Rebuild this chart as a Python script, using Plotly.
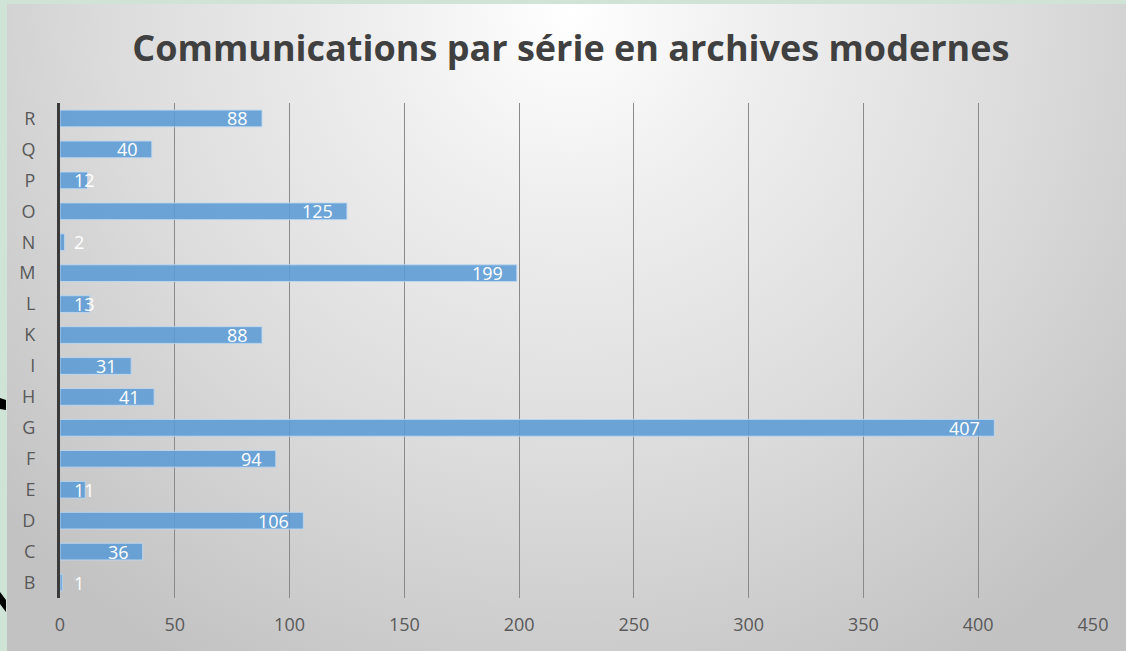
import base64
import plotly.graph_objects as go

# series (bottom to top as drawn)
categories = ["B", "C", "D", "E", "F", "G", "H", "I", "K", "L", "M", "N", "O", "P", "Q", "R"]
communications = [1, 36, 106, 11, 94, 407, 41, 31, 88, 13, 199, 2, 125, 12, 40, 88]
x_ticks = [0, 50, 100, 150, 200, 250, 300, 350, 400, 450]

W, H = 1126, 651
ML, MR, MT, MB = 60, 33, 103, 53
PW, PH = W - ML - MR, H - MT - MB

# background: light green frame + radial grey gradient
svg = f"""<svg xmlns='http://www.w3.org/2000/svg' width='{W}' height='{H}'>
<defs><radialGradient id='g' gradientUnits='userSpaceOnUse' cx='570' cy='10' r='760'>
<stop offset='0' stop-color='#ffffff'/><stop offset='0.25' stop-color='#efefef'/>
<stop offset='0.6' stop-color='#dcdcdc'/><stop offset='1' stop-color='#c2c2c2'/></radialGradient></defs>
<rect width='{W}' height='{H}' fill='#cfe4d6'/>
<rect x='7' y='4' width='{W - 7}' height='{H - 4}' fill='url(#g)'/>
</svg>"""
bg_src = "data:image/svg+xml;base64," + base64.b64encode(svg.encode()).decode()

fig = go.Figure(go.Bar(
    x=communications,
    y=categories,
    orientation="h",
    marker=dict(color="rgba(91,155,213,0.88)", line=dict(color="rgba(190,215,240,0.9)", width=1)),
    hoverinfo="x+y",
))

# value labels: inside end for long bars, just right of the axis for tiny ones
for cat, val in zip(categories, communications):
    if val >= 25:
        fig.add_annotation(x=val, y=cat, text=str(val), showarrow=False,
                           xanchor="right", xshift=-12,
                           font=dict(color="white", size=18, family="Open Sans"))
    else:
        fig.add_annotation(x=0, y=cat, text=str(val), showarrow=False,
                           xanchor="left", xshift=12,
                           font=dict(color="white", size=18, family="Open Sans"))


def px_x(v):
    return (v - ML) / PW


def px_y(v):
    return 1 - (v - MT) / PH


# bits of black outline poking in at the left edge
for path in [
    f"M {px_x(0)},{px_y(398)} L {px_x(6)},{px_y(400)} L {px_x(6)},{px_y(410)} L {px_x(0)},{px_y(409)} Z",
    f"M {px_x(0)},{px_y(592)} L {px_x(6)},{px_y(600)} L {px_x(6)},{px_y(612)} L {px_x(0)},{px_y(604)} Z",
]:
    fig.add_shape(type="path", path=path, xref="paper", yref="paper",
                  fillcolor="black", line=dict(width=0), layer="above")

fig.update_layout(
    width=W, height=H,
    margin=dict(l=ML, r=MR, t=MT, b=MB),
    paper_bgcolor="rgba(0,0,0,0)",
    plot_bgcolor="rgba(0,0,0,0)",
    images=[dict(source=bg_src, xref="paper", yref="paper",
                 x=-ML / PW, y=1 + MT / PH, sizex=W / PW, sizey=H / PH,
                 xanchor="left", yanchor="top", sizing="stretch", layer="below")],
    title=dict(text="<b>Communications par série en archives modernes</b>",
               x=0.507, xanchor="center", y=0.926, yanchor="middle",
               font=dict(family="Open Sans", size=36, color="#404040")),
    bargap=0.46,
    showlegend=False,
    font=dict(family="Open Sans", color="#595959", size=18),
)
fig.update_xaxes(range=[0, 450], tickvals=x_ticks, showgrid=True, gridcolor="#8a8a8a",
                 gridwidth=1, zeroline=False, showline=False, ticks="",
                 ticklabelstandoff=14, tickfont=dict(size=18, color="#595959"))
fig.update_yaxes(showline=True, linecolor="#3a3a3a", linewidth=3, showgrid=False,
                 ticks="", ticklabelstandoff=18, tickfont=dict(size=18, color="#595959"))

fig.write_html("out.html", config={"displayModeBar": False},
               post_script="document.body.style.margin='0';")
